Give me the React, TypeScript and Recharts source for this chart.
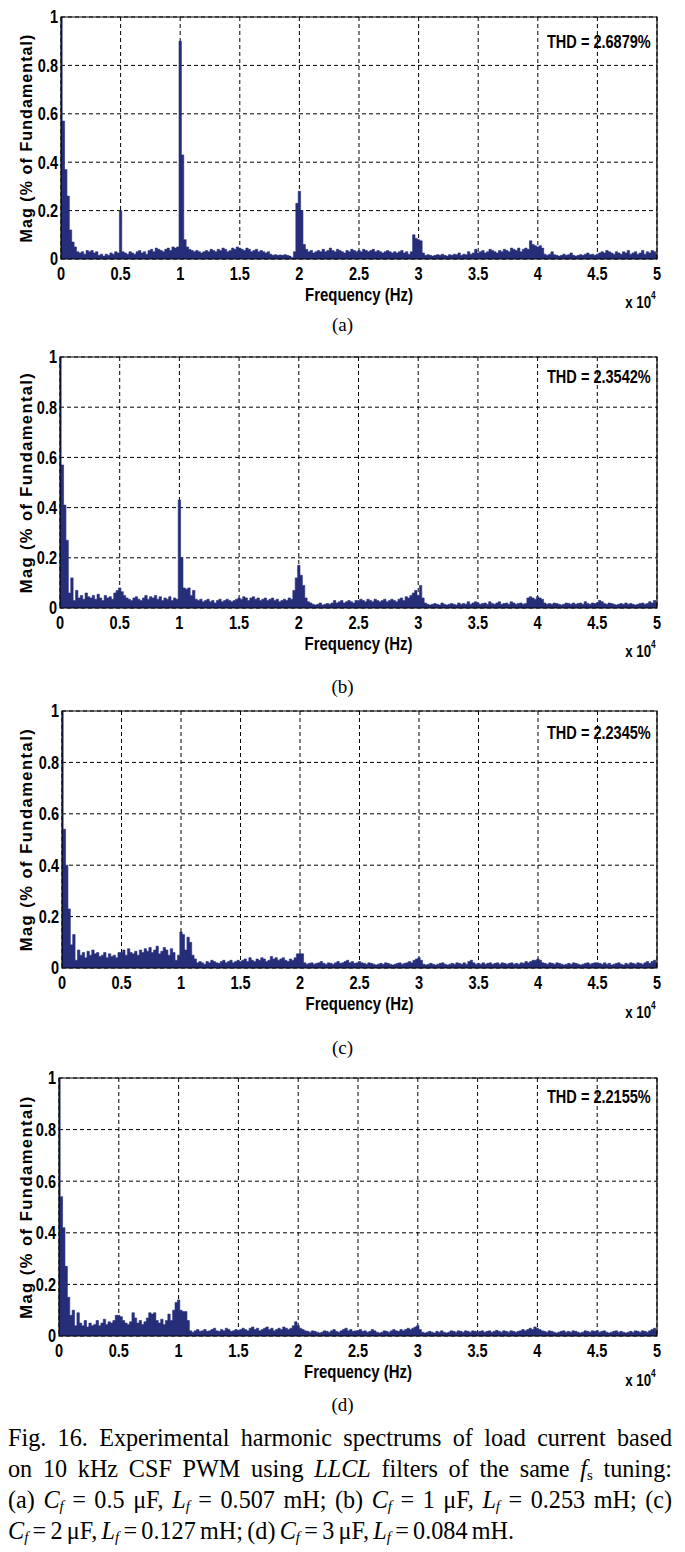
import React from 'react';
import { AreaChart, Area, XAxis, YAxis, CartesianGrid, ReferenceArea, Label } from 'recharts';

// spectrum bins are 200 Hz wide, 0 .. 50 kHz
const BIN_HZ = 200;
const xTicks = [0, 5000, 10000, 15000, 20000, 25000, 30000, 35000, 40000, 45000, 50000];
const yTicks = [0, 0.2, 0.4, 0.6, 0.8, 1];
const thdLabels = ['THD = 2.6879%', 'THD = 2.3542%', 'THD = 2.2345%', 'THD = 2.2155%'];
const panelLetters = ['(a)', '(b)', '(c)', '(d)'];

// (a) Cf = 0.5 uF
const magA = [
  1.0, .57, .37, .26, .12, .07, .05, .03, .025, .03, .02, .035, .03, .035, .025, .03, .015, .02, .012, .02, .015, .025, .02, .03, .025,
  .2, .03, .025, .02, .03, .025, .02, .03, .035, .025, .03, .02, .035, .04, .03, .045, .04, .035, .03, .04, .045, .035, .05, .045, .05,
  .9, .43, .08, .05, .04, .035, .03, .035, .03, .025, .03, .035, .03, .04, .035, .03, .04, .035, .045, .04, .03, .035, .045, .04, .05,
  .045, .04, .035, .045, .04, .03, .035, .04, .03, .035, .03, .025, .03, .02, .015, .018, .015, .017, .015, .018, .015, .012, .006, .03, .23,
  .28, .2, .06, .04, .03, .035, .025, .03, .035, .03, .04, .03, .035, .045, .035, .03, .04, .035, .03, .025, .035, .03, .04, .035, .03,
  .035, .03, .04, .035, .03, .035, .04, .03, .035, .03, .025, .03, .035, .03, .025, .03, .025, .03, .035, .025, .03, .02, .03, .1, .085,
  .08, .075, .025, .015, .018, .015, .012, .015, .018, .015, .02, .015, .012, .018, .015, .02, .018, .025, .015, .02, .018, .03, .02, .025, .04,
  .025, .03, .035, .025, .03, .04, .035, .03, .025, .035, .03, .04, .035, .03, .045, .04, .035, .045, .03, .04, .045, .04, .075, .06, .055,
  .05, .055, .045, .02, .015, .02, .03, .018, .015, .012, .015, .02, .015, .018, .025, .015, .012, .015, .018, .015, .02, .025, .018, .02, .015,
  .02, .025, .03, .025, .035, .03, .025, .02, .03, .025, .02, .03, .025, .035, .02, .025, .03, .02, .025, .035, .02, .03, .025, .035, .03,
  .02,
];

// (b) Cf = 1 uF
const magB = [
  1.0, .57, .41, .27, .06, .12, .03, .07, .04, .05, .035, .06, .045, .04, .05, .035, .055, .04, .03, .05, .04, .045, .035, .06, .07,
  .08, .065, .05, .04, .035, .03, .04, .045, .035, .03, .04, .05, .035, .045, .04, .05, .035, .045, .03, .04, .035, .045, .03, .04, .035,
  .43, .2, .08, .075, .08, .05, .07, .035, .03, .035, .025, .03, .035, .025, .03, .02, .03, .035, .025, .03, .035, .03, .025, .03, .035,
  .04, .035, .045, .04, .03, .04, .045, .035, .04, .03, .035, .04, .03, .035, .04, .03, .035, .025, .03, .035, .03, .04, .035, .07, .12,
  .17, .13, .09, .04, .025, .02, .015, .012, .015, .02, .012, .015, .018, .015, .02, .03, .02, .025, .03, .02, .025, .03, .025, .02, .03,
  .03, .035, .03, .025, .035, .03, .025, .035, .03, .025, .03, .035, .025, .03, .035, .03, .025, .035, .04, .03, .045, .04, .05, .06, .07,
  .05, .09, .04, .02, .015, .012, .015, .018, .015, .012, .02, .015, .012, .015, .018, .015, .012, .02, .015, .018, .015, .025, .015, .02, .025,
  .02, .015, .018, .02, .015, .025, .018, .015, .02, .025, .015, .018, .02, .015, .025, .02, .015, .018, .02, .015, .018, .04, .045, .04, .035,
  .045, .04, .035, .02, .015, .018, .015, .02, .018, .015, .012, .015, .02, .018, .015, .02, .015, .018, .02, .015, .025, .018, .015, .02, .018,
  .02, .03, .025, .018, .015, .02, .018, .015, .012, .015, .018, .015, .02, .015, .018, .015, .012, .015, .018, .02, .015, .018, .025, .02, .03,
  .02,
];

// (c) Cf = 2 uF
const magC = [
  1.0, .54, .40, .23, .09, .13, .03, .07, .05, .06, .04, .065, .05, .07, .055, .06, .045, .05, .06, .04, .055, .045, .05, .04, .06,
  .06, .07, .05, .075, .06, .055, .065, .05, .07, .06, .075, .065, .08, .06, .07, .085, .055, .065, .08, .07, .05, .075, .06, .03, .05,
  .14, .13, .07, .12, .1, .05, .035, .02, .025, .02, .015, .025, .02, .03, .025, .02, .018, .025, .03, .02, .025, .03, .02, .025, .03,
  .025, .03, .035, .025, .04, .03, .025, .035, .03, .04, .035, .025, .03, .045, .035, .04, .03, .035, .04, .03, .025, .035, .03, .04, .055,
  .056, .055, .02, .015, .018, .02, .015, .018, .02, .025, .018, .015, .02, .018, .015, .02, .025, .018, .02, .025, .03, .02, .025, .018, .02,
  .025, .02, .018, .015, .02, .018, .015, .012, .015, .018, .015, .02, .018, .015, .012, .015, .018, .02, .015, .018, .02, .025, .02, .03, .035,
  .04, .03, .015, .012, .015, .018, .015, .012, .015, .018, .02, .015, .012, .015, .018, .015, .02, .018, .015, .02, .015, .025, .03, .02, .015,
  .018, .015, .02, .015, .018, .02, .015, .018, .02, .015, .02, .018, .015, .018, .02, .015, .018, .015, .02, .018, .025, .02, .025, .03, .03,
  .035, .03, .02, .018, .015, .02, .018, .015, .02, .018, .015, .012, .015, .018, .015, .02, .018, .015, .012, .015, .018, .02, .015, .018, .02,
  .02, .018, .015, .02, .015, .018, .012, .015, .018, .02, .015, .012, .018, .015, .02, .018, .015, .02, .018, .015, .02, .025, .018, .025, .03,
  .02,
];

// (d) Cf = 3 uF
const magD = [
  1.0, .54, .42, .27, .15, .08, .1, .04, .09, .05, .04, .06, .035, .05, .04, .045, .06, .04, .05, .065, .045, .055, .05, .06, .08,
  .08, .075, .06, .05, .045, .055, .09, .07, .05, .06, .045, .055, .07, .09, .085, .09, .06, .05, .065, .045, .06, .085, .06, .1, .13,
  .14, .1, .095, .095, .06, .02, .015, .02, .025, .018, .02, .025, .018, .02, .025, .03, .02, .018, .025, .02, .03, .025, .018, .02, .025,
  .02, .025, .03, .025, .02, .03, .035, .025, .03, .02, .025, .03, .035, .025, .03, .02, .025, .03, .025, .035, .03, .025, .03, .04, .055,
  .04, .03, .025, .02, .018, .015, .02, .018, .015, .012, .015, .02, .018, .015, .02, .025, .018, .015, .02, .025, .03, .02, .025, .018, .02,
  .02, .025, .018, .02, .015, .018, .025, .02, .015, .012, .015, .02, .018, .015, .02, .025, .02, .018, .025, .02, .025, .03, .025, .03, .035,
  .04, .025, .015, .012, .015, .018, .015, .012, .018, .015, .02, .015, .012, .015, .02, .018, .015, .02, .018, .015, .02, .018, .015, .02, .018,
  .015, .018, .02, .015, .018, .02, .015, .018, .022, .018, .015, .02, .018, .015, .02, .018, .015, .018, .02, .025, .02, .025, .03, .025, .035,
  .03, .025, .02, .018, .015, .02, .018, .015, .012, .015, .018, .02, .015, .018, .015, .02, .018, .015, .012, .015, .02, .018, .015, .02, .018,
  .02, .015, .018, .02, .015, .012, .015, .018, .02, .015, .018, .015, .012, .015, .018, .015, .02, .018, .015, .02, .018, .015, .02, .025, .03,
  .02,
];

const BAR = '#262e7a';
const SANS = '"Liberation Sans", Arial, Helvetica, sans-serif';
const SERIF = '"Liberation Serif", "Times New Roman", serif';
const SQUEEZE = 0.83; // MATLAB export uses a condensed-looking face
const PLOT_RIGHT = 657;

// page geometry of each plot box
const layout = [
  { plotLeft: 61, plotTop: 17, plotBottom: 259, thdY: 42, expY: 303, letterY: 325, labelSize: 16, labelSpacing: 1.1 },
  { plotLeft: 60, plotTop: 357, plotBottom: 608, thdY: 377, expY: 652, letterY: 687, labelSize: 16.5, labelSpacing: 1.4 },
  { plotLeft: 62, plotTop: 711, plotBottom: 968, thdY: 733, expY: 1013, letterY: 1048, labelSize: 16.5, labelSpacing: 1.5 },
  { plotLeft: 59, plotTop: 1078, plotBottom: 1336, thdY: 1097, expY: 1381, letterY: 1405, labelSize: 16.5, labelSpacing: 1.5 },
];
const spectra = [magA, magB, magC, magD];

const toRows = (mags: number[]) => mags.map((m, i) => ({ f: i * BIN_HZ, m }));

const XTick = (props: any) => {
  const { x, y, payload } = props;
  return (
    <text
      transform={`translate(${x},${y}) scale(${SQUEEZE},1)`}
      textAnchor="middle"
      dy="0.75em"
      fontFamily={SANS}
      fontWeight="bold"
      fontSize={17.5}
      fill="#000"
    >
      {String(payload.value / 10000)}
    </text>
  );
};

const YTick = (props: any) => {
  const { x, y, payload } = props;
  return (
    <text
      transform={`translate(${x},${y}) scale(${SQUEEZE},1)`}
      textAnchor="end"
      dy="0.36em"
      fontFamily={SANS}
      fontWeight="bold"
      fontSize={17.5}
      fill="#000"
    >
      {String(payload.value)}
    </text>
  );
};

const FreqLabel = (props: any) => {
  const vb = props.viewBox || {};
  const cx = vb.x + vb.width / 2;
  return (
    <text
      transform={`translate(${cx},${vb.y + 42}) scale(${SQUEEZE},1)`}
      textAnchor="middle"
      fontFamily={SANS}
      fontWeight="bold"
      fontSize={18}
      fill="#000"
    >
      Frequency (Hz)
    </text>
  );
};

function Panel({ idx }: { idx: number }) {
  const g = layout[idx];
  const rows = toRows(spectra[idx]);
  const top = g.plotTop - 17;
  const height = g.plotBottom - top + 60;
  return (
    <>
      <div style={{ position: 'absolute', left: 0, top }}>
        <AreaChart
          width={685}
          height={height}
          data={rows}
          margin={{ top: 17, right: 685 - PLOT_RIGHT, bottom: 0, left: 0 }}
        >
          <CartesianGrid stroke="#000" strokeWidth={1} strokeDasharray="4 3" />
          <XAxis
            type="number"
            dataKey="f"
            domain={[0, 50000]}
            ticks={xTicks}
            interval={0}
            tick={<XTick />}
            tickLine={false}
            axisLine={false}
            tickSize={0}
            tickMargin={8}
            height={60}
            allowDataOverflow
          >
            <Label content={<FreqLabel />} />
          </XAxis>
          <YAxis
            type="number"
            domain={[0, 1]}
            ticks={yTicks}
            interval={0}
            tick={<YTick />}
            tickLine={false}
            axisLine={false}
            tickSize={0}
            tickMargin={3}
            width={g.plotLeft}
            allowDataOverflow
          >
            <Label
              value="Mag (% of Fundamental)"
              angle={-90}
              position="insideLeft"
              offset={26}
              style={{
                textAnchor: 'middle',
                fontFamily: SANS,
                fontWeight: 'bold',
                fontSize: g.labelSize,
                letterSpacing: g.labelSpacing,
                fill: '#000',
              }}
            />
          </YAxis>
          <Area
            type="step"
            dataKey="m"
            fill={BAR}
            fillOpacity={1}
            stroke={BAR}
            strokeWidth={0.6}
            dot={false}
            activeDot={false}
            isAnimationActive={false}
          />
          <ReferenceArea x1={0} x2={50000} y1={0} y2={1} fill="none" stroke="#000" strokeWidth={1.2} ifOverflow="visible" />
        </AreaChart>
      </div>
      <div
        style={{
          position: 'absolute',
          left: 547,
          top: g.thdY - 10,
          lineHeight: '20px',
          fontFamily: SANS,
          fontWeight: 'bold',
          fontSize: 17.5,
          whiteSpace: 'nowrap',
          transform: `scaleX(${SQUEEZE})`,
          transformOrigin: 'left center',
        }}
      >
        {thdLabels[idx]}
      </div>
      <div
        style={{
          position: 'absolute',
          right: 685 - 656,
          top: g.expY - 10,
          lineHeight: '20px',
          fontFamily: SANS,
          fontWeight: 'bold',
          fontSize: 16,
          whiteSpace: 'nowrap',
          transform: `scaleX(${SQUEEZE})`,
          transformOrigin: 'right center',
        }}
      >
        x 10
        <span style={{ fontSize: 10, position: 'relative', top: -9 }}>4</span>
      </div>
      <div
        style={{
          position: 'absolute',
          left: 0,
          width: 685,
          textAlign: 'center',
          top: g.letterY - 11,
          lineHeight: '22px',
          fontFamily: SERIF,
          fontSize: 19,
        }}
      >
        {panelLetters[idx]}
      </div>
    </>
  );
}

const sub = (s: string) => (
  <sub style={{ fontSize: '0.62em', verticalAlign: '-0.22em', lineHeight: 0 }}>{s}</sub>
);
const Cf = () => (<i>C{sub('f')}</i>);
const Lf = () => (<i>L{sub('f')}</i>);

const lineStyle = (justify: boolean, wordSpacing = 0): React.CSSProperties => ({
  textAlign: justify ? 'justify' : 'left',
  textAlignLast: justify ? 'justify' : 'left',
  height: 31,
  lineHeight: '31px',
  overflow: 'hidden',
  whiteSpace: justify ? 'normal' : 'nowrap',
  wordSpacing,
});

function Caption() {
  return (
    <div
      style={{
        position: 'absolute',
        left: 8,
        top: 1422,
        width: 664,
        fontFamily: SERIF,
        fontSize: 24.2,
        color: '#000',
      }}
    >
      <div style={lineStyle(true)}>Fig. 16. Experimental harmonic spectrums of load current based</div>
      <div style={lineStyle(true)}>
        on 10 kHz CSF PWM using <i>LLCL</i> filters of the same <i>f</i>{sub('s')} tuning:
      </div>
      <div style={lineStyle(true, -2.5)}>
        (a) <Cf /> = 0.5 μF, <Lf /> = 0.507 mH; (b) <Cf /> = 1 μF, <Lf /> = 0.253 mH; (c)
      </div>
      <div style={lineStyle(false, -1.8)}>
        <Cf /> = 2 μF, <Lf /> = 0.127 mH; (d) <Cf /> = 3 μF, <Lf /> = 0.084 mH.
      </div>
    </div>
  );
}

export default function App() {
  return (
    <div style={{ position: 'relative', width: 685, height: 1552, background: '#fff', overflow: 'hidden' }}>
      <style>{'body{margin:0}'}</style>
      {[0, 1, 2, 3].map((i) => (
        <Panel key={i} idx={i} />
      ))}
      <Caption />
    </div>
  );
}
